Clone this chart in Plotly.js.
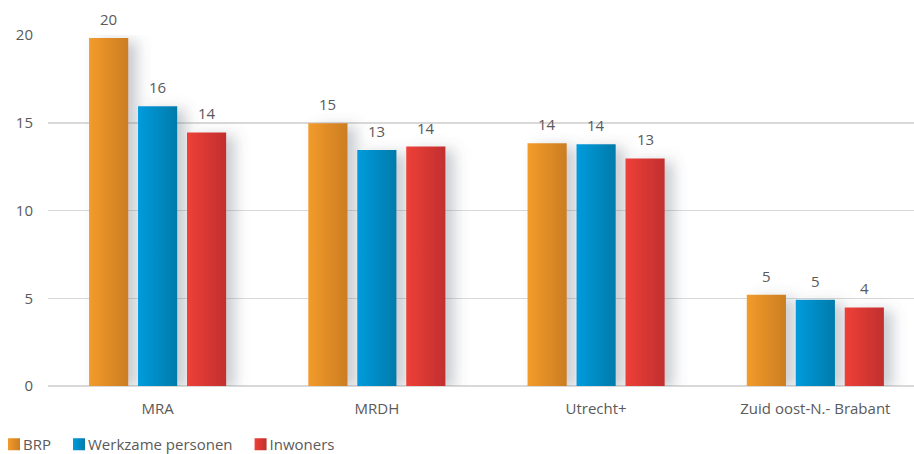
<!DOCTYPE html>
<html><head><meta charset="utf-8">
<script src="https://cdn.plot.ly/plotly-3.0.1.min.js"></script>
<style>body{margin:0;background:#fff}#chart{width:914px;height:454px}</style>
</head><body><div id="chart"></div>
<script>
const categories = ['MRA', 'MRDH', 'Utrecht+', 'Zuid oost-N.- Brabant'];
const seriesNames = ['BRP', 'Werkzame personen', 'Inwoners'];
const brp = [19.83, 14.97, 13.83, 5.2];
const werkzame = [15.94, 13.45, 13.77, 4.91];
const inwoners = [14.45, 13.64, 12.97, 4.48];
const yTicks = [0, 5, 10, 15, 20];

const seriesValues = [brp, werkzame, inwoners];
const baseColors = ['#F0962A', '#0095D6', '#E8403A'];
const gradStops = [['#F39B2B', '#CB7D22'], ['#009BDD', '#007BAA'], ['#EE4038', '#C12F2E']];
const font = 'Open Sans, sans-serif';
const textColor = '#5a5a5a';
const fs = 15;

const traces = seriesValues.map((vals, i) => ({
  type: 'bar', name: seriesNames[i], x: categories, y: vals,
  marker: {color: baseColors[i]}, hoverinfo: 'none'
}));

const slotPx = 49;
const annotations = [];
seriesValues.forEach((vals, i) => {
  vals.forEach((v, j) => {
    annotations.push({x: categories[j], y: v, text: String(Math.round(v)), showarrow: false,
      xshift: (i - 1) * slotPx, yshift: 19, font: {family: font, size: fs, color: textColor}});
  });
});

const layout = {
  width: 914, height: 454,
  margin: {l: 48, r: 0, t: 35, b: 68},
  paper_bgcolor: '#fff', plot_bgcolor: '#fff',
  barmode: 'group', bargap: 0.33, bargroupgap: 0.2,
  font: {family: font, size: fs, color: textColor},
  xaxis: {range: [-0.5, 3.45], showgrid: false, zeroline: false, showline: false,
    ticks: '', ticklabelstandoff: 12, tickfont: {family: font, size: fs, color: textColor}},
  yaxis: {range: [0, 20], tickvals: yTicks, ticktext: yTicks.map(String), showgrid: true,
    gridcolor: '#d9d9d9', gridwidth: 1.5, zeroline: true, zerolinecolor: '#d9d9d9', zerolinewidth: 1.5,
    ticks: '', ticklabelstandoff: 14, tickfont: {family: font, size: fs, color: textColor}},
  showlegend: true,
  legend: {orientation: 'h', x: 0, xref: 'container', xanchor: 'left', y: 0, yref: 'container', yanchor: 'bottom',
    font: {family: font, size: fs, color: textColor}, itemclick: false, traceorder: 'normal'},
  annotations: annotations
};

Plotly.newPlot('chart', traces, layout, {displayModeBar: false, staticPlot: true}).then(() => {
  const ns = 'http://www.w3.org/2000/svg';
  const svg = document.querySelector('#chart .main-svg');
  let defs = svg.querySelector('defs');
  if (!defs) { defs = document.createElementNS(ns, 'defs'); svg.insertBefore(defs, svg.firstChild); }
  gradStops.forEach((st, i) => {
    const lg = document.createElementNS(ns, 'linearGradient');
    lg.setAttribute('id', 'bgrad' + i);
    lg.setAttribute('x1', '0'); lg.setAttribute('y1', '0'); lg.setAttribute('x2', '1'); lg.setAttribute('y2', '0');
    st.forEach((c, k) => {
      const s = document.createElementNS(ns, 'stop');
      s.setAttribute('offset', k === 0 ? '0' : '1'); s.setAttribute('stop-color', c);
      lg.appendChild(s);
    });
    defs.appendChild(lg);
  });
  const f = document.createElementNS(ns, 'filter');
  f.setAttribute('id', 'bshadow');
  f.setAttribute('x', '-50%'); f.setAttribute('y', '-20%'); f.setAttribute('width', '250%'); f.setAttribute('height', '140%');
  f.innerHTML = '<feDropShadow dx="9" dy="3" stdDeviation="7" flood-color="#5a6470" flood-opacity="0.32"/>';
  defs.appendChild(f);

  document.querySelectorAll('#chart .barlayer .trace').forEach((tr, i) => {
    tr.querySelectorAll('path').forEach(p => {
      p.style.fill = 'url(#bgrad' + i + ')';
      p.setAttribute('filter', 'url(#bshadow)');
    });
  });
  // legend
  const items = document.querySelectorAll('#chart .legend .traces');
  let x = 0;
  items.forEach((g, i) => {
    const tr = g.getAttribute('transform') || '';
    const m = tr.match(/translate\(([-\d.]+),\s*([-\d.]+)\)/);
    const ty = m ? parseFloat(m[2]) : 0;
    g.setAttribute('transform', 'translate(' + x + ',' + ty + ')');
    const lp = g.querySelector('.legendpoints');
    if (lp) lp.setAttribute('transform', 'translate(-14,0)');
    g.querySelectorAll('.legendpoints path').forEach(p => { p.style.fill = 'url(#bgrad' + i + ')'; p.style.stroke = 'none'; });
    const t = g.querySelector('.legendtext');
    t.setAttribute('x', 15);
    const w = t.getComputedTextLength();
    x += 15 + w + 22;
  });
  const leg = document.querySelector('#chart .legend');
  const lt = leg.getAttribute('transform');
  const lm = lt.match(/translate\(([-\d.]+),\s*([-\d.]+)\)/);
  const ly = lm ? parseFloat(lm[2]) : 430;
  leg.setAttribute('transform', 'translate(8,' + (ly + 7) + ')');
  const bg = leg.querySelector('.bg'); if (bg) bg.style.fill = 'none';
});
</script></body></html>
